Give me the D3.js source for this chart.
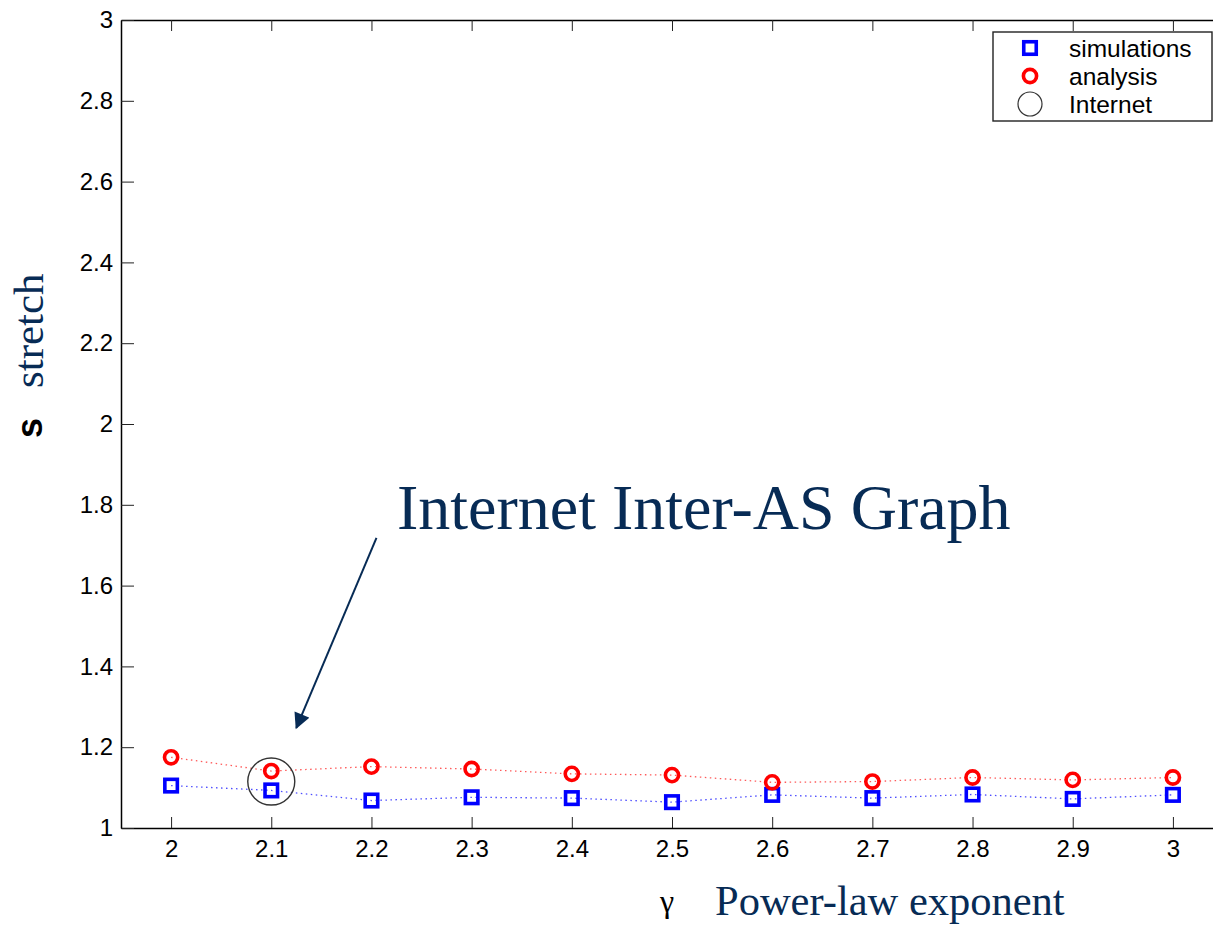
<!DOCTYPE html>
<html>
<head>
<meta charset="utf-8">
<script src="https://cdn.jsdelivr.net/npm/d3@7/dist/d3.min.js"></script>
<style>
  html, body { margin: 0; padding: 0; background: #fff; overflow: hidden; }
  svg { display: block; overflow: hidden; }
  .tick text { font-family: "Liberation Sans", Arial, sans-serif; font-size: 24px; fill: #000; }
</style>
</head>
<body>
<svg id="chart" width="1213" height="928"></svg>
<script>
// Power-law exponent values on the x axis
const gammaValues = [2, 2.1, 2.2, 2.3, 2.4, 2.5, 2.6, 2.7, 2.8, 2.9, 3];
// Average stretch from simulations
const simulations = [1.105, 1.093, 1.068, 1.076, 1.074, 1.064, 1.082, 1.074, 1.083, 1.072, 1.082];
// Average stretch from the analytical model
const analysis = [1.175, 1.141, 1.152, 1.146, 1.134, 1.131, 1.113, 1.115, 1.125, 1.119, 1.125];
// Measured Internet inter-AS graph
const internetPoint = [2.1, 1.115];
// Tick values and labels
const xTicks = [2, 2.1, 2.2, 2.3, 2.4, 2.5, 2.6, 2.7, 2.8, 2.9, 3];
const xTickLabels = ["2", "2.1", "2.2", "2.3", "2.4", "2.5", "2.6", "2.7", "2.8", "2.9", "3"];
const yTicks = [1, 1.2, 1.4, 1.6, 1.8, 2, 2.2, 2.4, 2.6, 2.8, 3];
const yTickLabels = ["1", "1.2", "1.4", "1.6", "1.8", "2", "2.2", "2.4", "2.6", "2.8", "3"];
const legendLabels = ["simulations", "analysis", "Internet"];
// Annotation arrow, in data coordinates
const arrowFrom = [2.205, 1.718];
const arrowTo = [2.125, 1.248];
const annotationAt = [2.2255, 1.740];

const svg = d3.select("#chart");
const plot = { left: 121, right: 1223, top: 20, bottom: 828 };

const x = d3.scaleLinear().domain([1.95, 3.05]).range([plot.left, plot.right]);
const y = d3.scaleLinear().domain([1, 3]).range([plot.bottom, plot.top]);

const navy = "#072b55";
const sans = '"Liberation Sans", Arial, sans-serif';
const serif = '"Liberation Serif", "Times New Roman", serif';

// Axes with inward ticks; the right side of the box falls just past the page edge
function styleAxis(g) {
  g.select(".domain").attr("stroke", "#000").attr("stroke-width", 1.5);
  g.selectAll(".tick line").attr("stroke", "#222").attr("stroke-width", 1);
}
svg.append("g")
  .attr("transform", `translate(0,${plot.bottom})`)
  .call(d3.axisBottom(x).tickValues(xTicks)
    .tickFormat((d, i) => xTickLabels[i]).tickSizeInner(-11).tickSizeOuter(0).tickPadding(12))
  .call(styleAxis);
svg.append("g")
  .attr("transform", `translate(0,${plot.top})`)
  .call(d3.axisTop(x).tickValues(xTicks).tickFormat("").tickSizeInner(-11).tickSizeOuter(0))
  .call(styleAxis);
svg.append("g")
  .attr("transform", `translate(${plot.left},0)`)
  .call(d3.axisLeft(y).tickValues(yTicks)
    .tickFormat((d, i) => yTickLabels[i]).tickSizeInner(-13).tickSizeOuter(0).tickPadding(8))
  .call(styleAxis);
svg.selectAll(".tick text").attr("font-family", null).attr("font-size", null);

// Dotted connecting lines
const line = vals => d3.line().x((d, i) => x(gammaValues[i])).y(d => y(d))(vals);
svg.append("path").attr("d", line(analysis)).attr("fill", "none")
  .attr("stroke", "#ff3030").attr("stroke-width", 1.3).attr("stroke-dasharray", "1.5 3.5").attr("opacity", 0.8);
svg.append("path").attr("d", line(simulations)).attr("fill", "none")
  .attr("stroke", "#2020ff").attr("stroke-width", 1.3).attr("stroke-dasharray", "1.5 3.5").attr("opacity", 0.8);

// Markers
const sq = 12.5;
svg.append("g").selectAll("rect").data(simulations).join("rect")
  .attr("x", (d, i) => x(gammaValues[i]) - sq / 2)
  .attr("y", d => y(d) - sq / 2)
  .attr("width", sq).attr("height", sq)
  .attr("fill", "none").attr("stroke", "#0000ff").attr("stroke-width", 3.6);
svg.append("g").selectAll("circle").data(analysis).join("circle")
  .attr("cx", (d, i) => x(gammaValues[i]))
  .attr("cy", d => y(d))
  .attr("r", 6.6)
  .attr("fill", "none").attr("stroke", "#ff0000").attr("stroke-width", 3.6);
svg.append("circle")
  .attr("cx", x(internetPoint[0])).attr("cy", y(internetPoint[1]))
  .attr("r", 23.5)
  .attr("fill", "none").attr("stroke", "#333").attr("stroke-width", 1.4);

// Legend
const lg = svg.append("g").attr("transform", "translate(993,32)");
lg.append("rect").attr("width", 219).attr("height", 89)
  .attr("fill", "#fff").attr("stroke", "#222").attr("stroke-width", 1.4);
const rowY = [16, 44, 72];
lg.append("rect").attr("x", 37 - sq / 2).attr("y", rowY[0] - sq / 2).attr("width", sq).attr("height", sq)
  .attr("fill", "none").attr("stroke", "#0000ff").attr("stroke-width", 3.6);
lg.append("circle").attr("cx", 37).attr("cy", rowY[1]).attr("r", 6.6)
  .attr("fill", "none").attr("stroke", "#ff0000").attr("stroke-width", 3.6);
lg.append("circle").attr("cx", 37).attr("cy", rowY[2]).attr("r", 12)
  .attr("fill", "none").attr("stroke", "#333").attr("stroke-width", 1.2);
lg.selectAll("text").data(legendLabels).join("text")
  .attr("x", 76).attr("y", (d, i) => rowY[i]).attr("dy", "0.35em")
  .attr("font-family", sans).attr("font-size", 24.5).attr("fill", "#000")
  .text(d => d);

// Annotation
const defs = svg.append("defs");
defs.append("marker").attr("id", "head").attr("viewBox", "0 0 10 10")
  .attr("refX", 9).attr("refY", 5).attr("markerWidth", 18).attr("markerHeight", 16)
  .attr("markerUnits", "userSpaceOnUse").attr("orient", "auto")
  .append("path").attr("d", "M0,0 L10,5 L0,10 Z").attr("fill", navy);
svg.append("line")
  .attr("x1", x(arrowFrom[0])).attr("y1", y(arrowFrom[1]))
  .attr("x2", x(arrowTo[0])).attr("y2", y(arrowTo[1]))
  .attr("stroke", navy).attr("stroke-width", 2)
  .attr("marker-end", "url(#head)");
svg.append("text")
  .attr("x", x(annotationAt[0])).attr("y", y(annotationAt[1]))
  .attr("font-family", serif).attr("font-size", 64).attr("fill", navy)
  .text("Internet Inter-AS Graph");

// Axis titles
svg.append("text").attr("x", 660).attr("y", 912)
  .attr("font-family", serif).attr("font-size", 32).attr("fill", "#000")
  .text("γ");
svg.append("text").attr("x", 715).attr("y", 915)
  .attr("font-family", serif).attr("font-size", 42.5).attr("fill", navy)
  .text("Power-law exponent");
svg.append("text")
  .attr("transform", "translate(42,438) rotate(-90)")
  .attr("font-family", sans).attr("font-weight", "bold").attr("font-size", 36).attr("fill", "#000")
  .text("s");
svg.append("text")
  .attr("transform", "translate(43,388) rotate(-90)")
  .attr("font-family", serif).attr("font-size", 43).attr("fill", navy)
  .text("stretch");
</script>
</body>
</html>
